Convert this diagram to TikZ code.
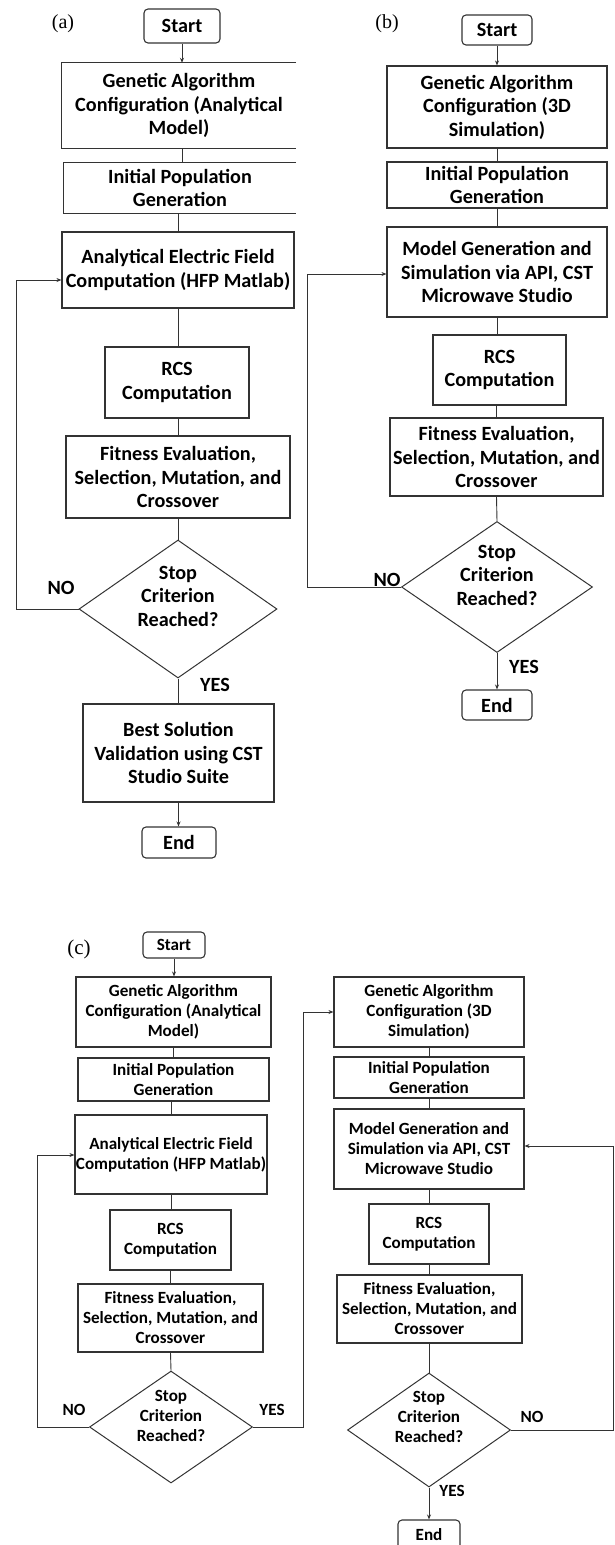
\documentclass[tikz,border=0pt]{standalone}
\usepackage{fontspec}
\setmainfont{Carlito}
\newfontfamily\tagfont{Liberation Serif}
\usetikzlibrary{shapes.geometric,arrows.meta}

\tikzset{
  big/.style={font=\fontsize{20.2}{23.5}\selectfont\bfseries},
  small/.style={font=\fontsize{17.1}{20}\selectfont\bfseries},
  box/.style={draw=black!80, line width=1.1pt, align=center, inner sep=0pt},
  term/.style={box, rounded corners=4pt},
  openbox/.style={align=center, inner sep=0pt},
  decision/.style={diamond, draw=black!80, line width=1pt, inner sep=0pt},
  tag/.style={font=\tagfont\fontsize{20}{24}\selectfont},
  line/.style={draw=black!80, line width=0.9pt},
  arr/.style={line, -{Stealth[length=5pt,width=4pt]}},
}

\begin{document}
\begin{tikzpicture}[x=1pt,y=-1pt]
\useasboundingbox (0,0) rectangle (615,1545);

% (a) analytical model
\node[tag] (tagA) at (63,24) {(a)};
\node[term,big,minimum width=76,minimum height=34] (startA) at (182,26) {Start};
\node[openbox,big,minimum width=234,minimum height=85] (gaA) at (179,105.5) {Genetic Algorithm\\Configuration (Analytical\\Model)};
\node[openbox,big,minimum width=232,minimum height=50] (popA) at (180,188) {Initial Population\\Generation};
\node[box,big,minimum width=232,minimum height=76] (anaA) at (178,270) {Analytical Electric Field\\Computation (HFP Matlab)};
\node[box,big,minimum width=144,minimum height=71] (rcsA) at (177,382.5) {RCS\\Computation};
\node[box,big,minimum width=224,minimum height=82] (fitA) at (178,477) {Fitness Evaluation,\\Selection, Mutation, and\\Crossover};
\node[decision,minimum width=198,minimum height=138,
  label={[big,align=center,yshift=13pt]center:Stop\\Criterion\\Reached?}] (decA) at (178,609) {};
\node[box,big,minimum width=191,minimum height=98] (bestA) at (178.5,753) {Best Solution\\Validation using CST\\Studio Suite};
\node[term,big,minimum width=74,minimum height=31] (endA) at (179,842.5) {End};
\node[big] (noA) at (61,588) {NO};
\node[big] (yesA) at (215,685) {YES};
\coordinate (loopA) at (16,280);

\draw[line] (gaA.north east) -- (gaA.north west) -- (gaA.south west) -- (gaA.south east);
\draw[line] (popA.north east) -- (popA.north west) -- (popA.south west) -- (popA.south east);
\draw[arr] (startA.south) -- (startA.south |- gaA.north);
\draw[line] (gaA.south -| startA.south) -- (popA.north -| startA.south);
\draw[line] (anaA.north |- popA.south) -- (anaA.north);
\draw[line] (anaA.south) -- (anaA.south |- rcsA.north);
\draw[line] (fitA.north |- rcsA.south) -- (fitA.north);
\draw[line] (fitA.south) -- (decA.north);
\draw[line] (decA.south) -- (decA.south |- bestA.north);
\draw[arr] (bestA.south) -- (bestA.south |- endA.north);
\draw[arr] (decA.west) -| (loopA) -- (loopA -| anaA.west);

% (b) 3D simulation
\node[tag] (tagB) at (387,24) {(b)};
\node[term,big,minimum width=70,minimum height=30] (startB) at (497,30) {Start};
\node[box,big,minimum width=220,minimum height=82] (gaB) at (497,107) {Genetic Algorithm\\Configuration (3D\\Simulation)};
\node[box,big,minimum width=220,minimum height=46] (popB) at (497,185) {Initial Population\\Generation};
\node[box,big,minimum width=220,minimum height=90] (modB) at (497,272) {Model Generation and\\Simulation via API, CST\\Microwave Studio};
\node[box,big,minimum width=133,minimum height=70] (rcsB) at (499.5,370) {RCS\\Computation};
\node[box,big,minimum width=213,minimum height=78] (fitB) at (496.5,457) {Fitness Evaluation,\\Selection, Mutation, and\\Crossover};
\node[decision,minimum width=191,minimum height=131,
  label={[big,align=center,yshift=12pt]center:Stop\\Criterion\\Reached?}] (decB) at (497,587) {};
\node[term,big,minimum width=70,minimum height=30] (endB) at (497,705) {End};
\node[big] (noB) at (387,580) {NO};
\node[big] (yesB) at (524,667) {YES};
\coordinate (loopB) at (307,274);

\draw[arr] (startB.south) -- (gaB.north);
\draw[line] (gaB.south) -- (popB.north);
\draw[line] (popB.south) -- (modB.north);
\draw[line] (modB.south) -- (modB.south |- rcsB.north);
\draw[line] (fitB.north |- rcsB.south) -- (fitB.north);
\draw[line] (fitB.south) -- (decB.north);
\draw[arr] (decB.south) -- (endB.north);
\draw[arr] (decB.west) -| (loopB) -- (loopB -| modB.west);

% (c) analytical model then 3D simulation
\node[tag,font=\tagfont\fontsize{21}{24}\selectfont] (tagC) at (79,949) {(c)};
\node[term,small,minimum width=62,minimum height=26] (startC) at (174,945) {Start};
\node[box,small,minimum width=195,minimum height=70] (gaC) at (173.5,1012) {Genetic Algorithm\\Configuration (Analytical\\Model)};
\node[box,small,minimum width=191,minimum height=43] (popC) at (173.5,1079.5) {Initial Population\\Generation};
\node[box,small,minimum width=192,minimum height=79] (anaC) at (171,1154.5) {Analytical Electric Field\\Computation (HFP Matlab)};
\node[box,small,minimum width=121,minimum height=60] (rcsC) at (170.5,1240) {RCS\\Computation};
\node[box,small,minimum width=185,minimum height=68] (fitC) at (170.5,1318) {Fitness Evaluation,\\Selection, Mutation, and\\Crossover};
\node[decision,minimum width=163,minimum height=112,
  label={[small,align=center,yshift=11pt]center:Stop\\Criterion\\Reached?}] (decC) at (171,1427) {};
\node[small] (noC) at (74,1410) {NO};
\node[small] (yesC) at (272,1410) {YES};
\coordinate (loopC) at (37,1155);
\coordinate (jumpC) at (303,1012);

\node[box,small,minimum width=190,minimum height=70] (gaD) at (429,1012) {Genetic Algorithm\\Configuration (3D\\Simulation)};
\node[box,small,minimum width=190,minimum height=41] (popD) at (429,1077.5) {Initial Population\\Generation};
\node[box,small,minimum width=190,minimum height=80] (modD) at (429,1149) {Model Generation and\\Simulation via API, CST\\Microwave Studio};
\node[box,small,minimum width=120,minimum height=60] (rcsD) at (429,1234) {RCS\\Computation};
\node[box,small,minimum width=185,minimum height=68] (fitD) at (429.5,1309) {Fitness Evaluation,\\Selection, Mutation, and\\Crossover};
\node[decision,minimum width=163,minimum height=114,
  label={[small,align=center,yshift=13pt]center:Stop\\Criterion\\Reached?}] (decD) at (429,1430) {};
\node[term,small,minimum width=62,minimum height=30] (endD) at (429,1535) {End};
\node[small] (noD) at (532,1417) {NO};
\node[small] (yesD) at (452,1491) {YES};
\coordinate (loopD) at (613,1146);

\draw[arr] (startC.south) -- (startC.south |- gaC.north);
\draw[line] (gaC.south) -- (popC.north);
\draw[line] (popC.south -| anaC.north) -- (anaC.north);
\draw[line] (anaC.south) -- (rcsC.north -| anaC.south);
\draw[line] (rcsC.south) -- (fitC.north);
\draw[line] (fitC.south) -- (decC.north);
\draw[arr] (decC.west) -| (loopC) -- (loopC -| anaC.west);
\draw[arr] (decC.east) -| (jumpC) -- (jumpC -| gaD.west);

\draw[line] (gaD.south) -- (popD.north);
\draw[line] (popD.south) -- (modD.north);
\draw[line] (modD.south) -- (rcsD.north);
\draw[line] (rcsD.south) -- (rcsD.south |- fitD.north);
\draw[line] (decD.north |- fitD.south) -- (decD.north);
\draw[arr] (decD.south) -- (endD.north);
\draw[arr] (decD.east) -| (loopD) -- (loopD -| modD.east);
\end{tikzpicture}
\end{document}
